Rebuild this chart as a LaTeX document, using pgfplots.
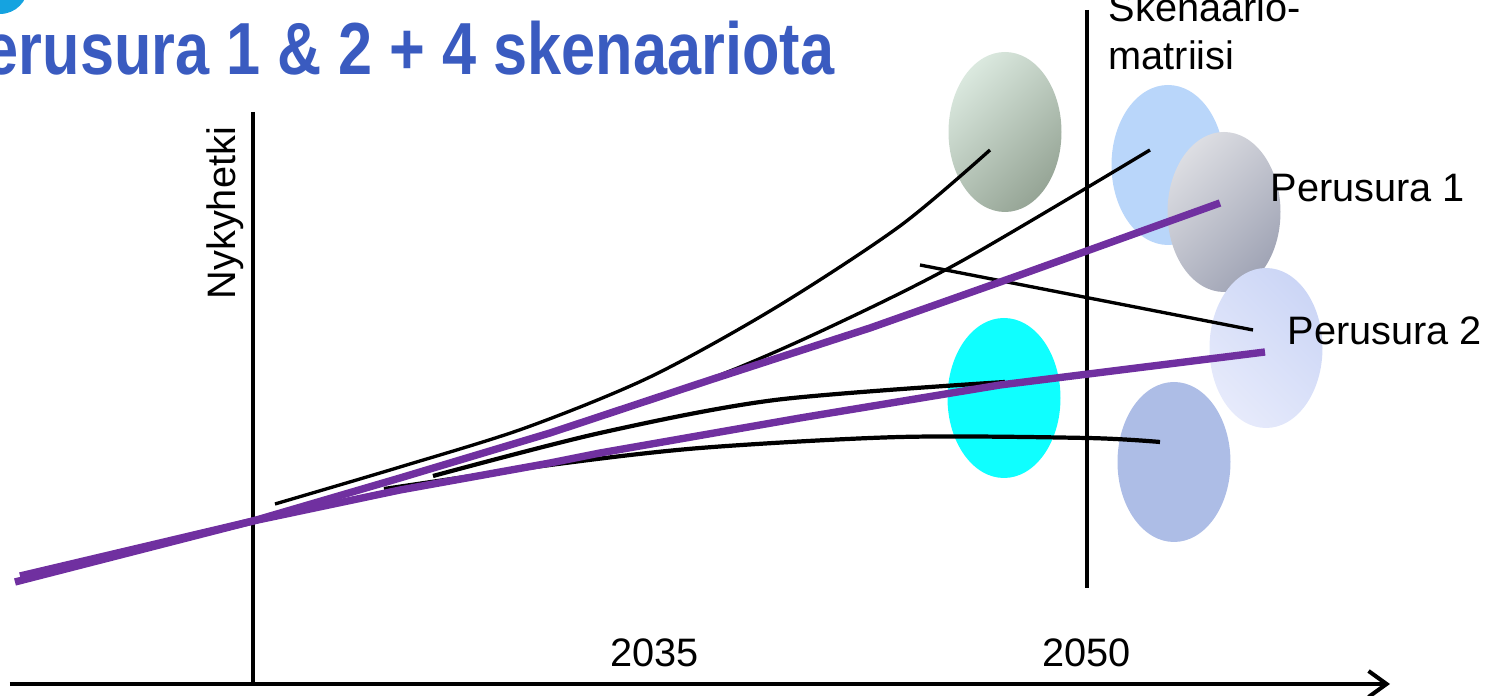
\documentclass[border=0pt]{standalone}
\usepackage{pgfplots}
\pgfplotsset{compat=1.18}
\usepackage{graphicx}
\usepackage{fontspec}
\setmainfont{Liberation Sans}
\usetikzlibrary{shapes.geometric,arrows.meta}

\definecolor{titleblue}{RGB}{58,91,192}
\definecolor{dotblue}{RGB}{21,163,224}
\definecolor{purp}{RGB}{112,48,160}
\definecolor{greenA}{RGB}{218,232,222}
\definecolor{greenB}{RGB}{150,165,150}
\definecolor{skyblue}{RGB}{185,214,250}
\definecolor{greyA}{RGB}{220,221,226}
\definecolor{greyB}{RGB}{160,164,181}
\definecolor{lavA}{RGB}{230,234,251}
\definecolor{lavB}{RGB}{204,214,246}
\definecolor{cyanE}{RGB}{15,255,255}
\definecolor{periw}{RGB}{173,189,230}

\newcommand{\lab}{\fontsize{11.3}{13.6}\selectfont}

\pgfplotsset{
  canvas/.style={
    at={(0,0)}, anchor=south west,
    scale only axis, width=14.94cm, height=6.96cm,
    xmin=0, xmax=1494, ymin=0, ymax=696,
    y dir=reverse, hide axis, clip=false},
  blob/.style={only marks, mark=none, point meta=y,
    nodes near coords={}, nodes near coords align=center,
    every node near coord/.style={anchor=center, ellipse, inner sep=0pt,
      minimum width=11.3mm, minimum height=16mm, draw=none, #1}},
}

\begin{document}
\begin{tikzpicture}
\path[use as bounding box] (0,0) rectangle (14.94cm,6.96cm);
\clip (0,0) rectangle (14.94cm,6.96cm);

% scenario blobs (drawn first, underneath everything)
\begin{axis}[canvas]
\addplot[blob={fill=skyblue}] coordinates {(1168,165)};
\addplot[blob={shade, top color=greyA, bottom color=greyB, shading angle=45}] coordinates {(1224,212)};
\addplot[blob={shade, top color=lavB, bottom color=lavA, shading angle=-45}] coordinates {(1266,348)};
\addplot[blob={shade, top color=greenA, bottom color=greenB, shading angle=45}] coordinates {(1005,132)};
\addplot[blob={fill=cyanE}] coordinates {(1004,398)};
\addplot[blob={fill=periw}] coordinates {(1174,462)};
% corner dot
\addplot[only marks, mark=none, point meta=y, nodes near coords={}, nodes near coords align=center,
  every node near coord/.style={anchor=center, circle, inner sep=0pt, minimum size=5.6mm, fill=dotblue}]
  coordinates {(0,-14)};
\end{axis}

\begin{axis}[canvas]
% time axis and vertical markers
\addplot[black, line width=1.15pt, -{Straight Barb[length=1.8mm, width=2.6mm, line width=1.15pt]}]
  coordinates {(10,684) (1390,684)};
\addplot[black, line width=1pt] coordinates {(253,112) (253,686)};
\addplot[black, line width=1pt] coordinates {(1087,10) (1087,588)};

% scenario paths
\addplot[black, line width=0.95pt, smooth] coordinates {
  (275,504) (400,467) (525,428) (650,377) (775,308) (900,226) (990,150)};
\addplot[black, line width=0.95pt, smooth] coordinates {
  (420,473) (600,416) (720,375) (830,327) (960,262) (1150,150)};
\addplot[black, line width=1.2pt, smooth] coordinates {
  (433,476) (600,433) (775,400) (1005,382)};
\addplot[black, line width=1.2pt, smooth] coordinates {
  (384,489) (550,465) (700,448) (900,437) (1087,438) (1160,442)};
\addplot[black, line width=0.95pt] coordinates {(920,265) (1253,330)};

% baseline paths
\addplot[purp, line width=2.1pt] coordinates {
  (20,576) (253,521) (400,478) (550,433) (710,380) (870,328) (1020,275) (1220,203)};
\addplot[purp, line width=2.1pt] coordinates {
  (15,582) (253,521) (400,490) (550,463) (600,453) (800,418) (1000,385) (1265,352)};

% labels
\node[anchor=base east, inner sep=0pt, text=titleblue, font=\fontsize{21}{24}\selectfont\bfseries]
  at (axis cs:835,75) {\scalebox{0.83}[1]{Perusura 1 \& 2 + 4 skenaariota}};
\node[rotate=90, anchor=base west, inner sep=0pt, font=\lab] at (axis cs:235,300) {Nykyhetki};
\node[anchor=base west, inner sep=0pt, font=\lab] at (axis cs:1108,22) {Skenaario-};
\node[anchor=base west, inner sep=0pt, font=\lab] at (axis cs:1108,70) {matriisi};
\node[anchor=base west, inner sep=0pt, font=\lab] at (axis cs:1270,202) {Perusura 1};
\node[anchor=base west, inner sep=0pt, font=\lab] at (axis cs:1287,345) {Perusura 2};
\node[anchor=base west, inner sep=0pt, font=\lab] at (axis cs:610,667) {2035};
\node[anchor=base west, inner sep=0pt, font=\lab] at (axis cs:1042,667) {2050};
\end{axis}
\end{tikzpicture}
\end{document}
